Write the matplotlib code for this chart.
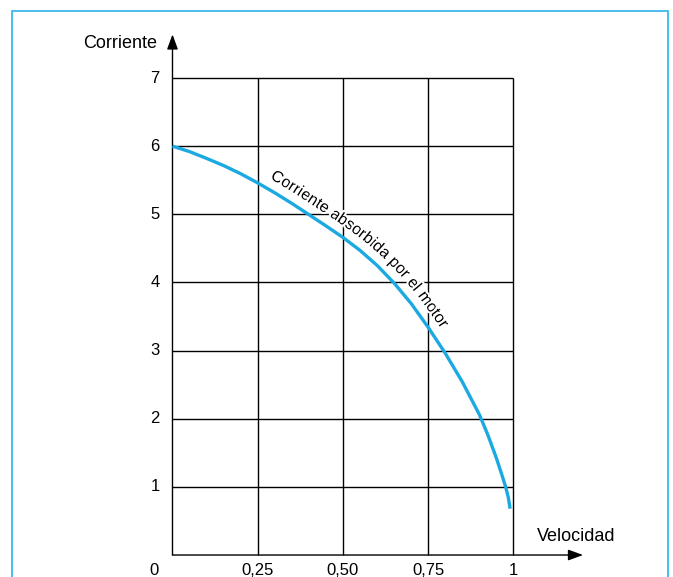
import numpy as np
import matplotlib
matplotlib.use("Agg")
import matplotlib.pyplot as plt
import matplotlib.patheffects as pe
from matplotlib.font_manager import FontProperties
from matplotlib.patches import Rectangle

plt.rcParams['font.family'] = ['Liberation Sans', 'DejaVu Sans']

# data
velocidad = [0.0, 0.05, 0.10, 0.15, 0.20, 0.25, 0.30, 0.35, 0.40, 0.45,
             0.50, 0.55, 0.60, 0.65, 0.70, 0.75, 0.80, 0.85, 0.90, 0.925,
             0.95, 0.965, 0.977, 0.985, 0.99]
corriente = [6.0, 5.92, 5.82, 5.715, 5.595, 5.46, 5.315, 5.16, 4.995, 4.83,
             4.66, 4.47, 4.25, 3.99, 3.69, 3.34, 2.96, 2.54, 2.06, 1.76,
             1.42, 1.19, 1.0, 0.84, 0.68]

x_ticks = [0, 0.25, 0.50, 0.75, 1]
x_labels = ['0', '0,25', '0,50', '0,75', '1']
y_ticks = [1, 2, 3, 4, 5, 6, 7]
y_labels = ['1', '2', '3', '4', '5', '6', '7']
curve_label = "Corriente absorbida por el motor"

fig = plt.figure(figsize=(6.73, 5.77), dpi=100)
ax = fig.add_axes([0.2563, 0.0381, 0.5067, 0.8267])
ax.set_xlim(0, 1)
ax.set_ylim(0, 7)
ax.axis('off')

# light blue frame round the figure (open at the bottom)
fig.add_artist(Rectangle((12 / 673, -0.05), (668 - 12) / 673, 1.05 - 11 / 577,
                         transform=fig.transFigure, fill=False,
                         edgecolor='#3DB8EA', lw=1.3))

# grid
ax.vlines(x_ticks[1:], 0, 7, color='black', lw=1.0, clip_on=False)
ax.hlines(y_ticks, 0, 1, color='black', lw=1.0, clip_on=False)

# axes with arrows
arrow = dict(arrowstyle='-|>,head_length=0.6,head_width=0.22', color='black',
             lw=1.0, mutation_scale=15, shrinkA=0, shrinkB=0)
ax.annotate('', xy=(1.204, 0), xytext=(0, 0), arrowprops=arrow,
            annotation_clip=False)
ax.annotate('', xy=(0, 7.64), xytext=(0, 0), arrowprops=arrow,
            annotation_clip=False)

# tick labels
for xv, lab in zip(x_ticks, x_labels):
    xp = xv if xv != 0 else -0.054
    ax.text(xp, -0.23, lab, ha='center', va='center', fontsize=12, clip_on=False)
for yv, lab in zip(y_ticks, y_labels):
    ax.text(-0.051, yv, lab, ha='center', va='center', fontsize=12, clip_on=False)

ax.text(-0.045, 7.50, 'Corriente', ha='right', va='center', fontsize=13)
ax.text(1.068, 0.27, 'Velocidad', ha='left', va='center', fontsize=13)

# curve
ax.plot(velocidad, corriente, color='#1BA9E1', lw=2.4, solid_capstyle='butt',
        clip_on=False, zorder=5)

# text written along the curve, on a path offset to the upper right
fig.canvas.draw()
renderer = fig.canvas.get_renderer()
fp = FontProperties(family=['Liberation Sans', 'DejaVu Sans'], size=11.5)
pts = ax.transData.transform(np.column_stack([velocidad, corriente]))
seg = np.hypot(np.diff(pts[:, 0]), np.diff(pts[:, 1]))
arc = np.concatenate([[0], np.cumsum(seg)])
sd = np.arange(0, arc[-1], 0.5)
px = np.interp(sd, arc, pts[:, 0])
py = np.interp(sd, arc, pts[:, 1])
k = np.ones(21) / 21
pxs = np.convolve(np.pad(px, 10, mode='edge'), k, mode='valid')
pys = np.convolve(np.pad(py, 10, mode='edge'), k, mode='valid')
tx = np.gradient(pxs)
ty = np.gradient(pys)
tn = np.hypot(tx, ty)
tx, ty = tx / tn, ty / tn
offset = 10.0
ox = pxs - offset * ty
oy = pys + offset * tx
oarc = np.concatenate([[0], np.cumsum(np.hypot(np.diff(ox), np.diff(oy)))])

i0 = np.argmin(np.abs(px - ax.transData.transform((0.27, 0))[0]))
s = oarc[i0]
inv = fig.transFigure.inverted()
space_w = (renderer.get_text_width_height_descent('a a', fp, ismath=False)[0] -
           renderer.get_text_width_height_descent('aa', fp, ismath=False)[0])
halo = [pe.withStroke(linewidth=3, foreground='white')]
for ch in curve_label:
    if ch == ' ':
        s += space_w
        continue
    w = renderer.get_text_width_height_descent(ch, fp, ismath=False)[0]
    sc = s + w / 2
    j = np.clip(np.searchsorted(oarc, sc), 0, len(oarc) - 1)
    pos = (ox[j], oy[j])
    ang = np.degrees(np.arctan2(ty[j], tx[j]))
    fx, fy = inv.transform(pos)
    fig.text(fx, fy, ch, fontproperties=fp, rotation=ang, rotation_mode='anchor',
             ha='center', va='baseline', path_effects=halo, zorder=2)
    s += w

fig.savefig('out.png', dpi=100)
